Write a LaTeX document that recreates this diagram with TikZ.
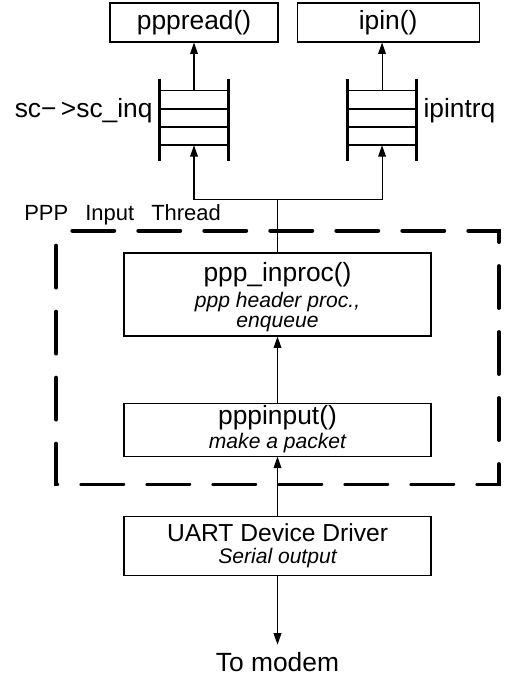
\documentclass[tikz,border=0pt]{standalone}
\usepackage{fontspec}
\setmainfont{Liberation Sans}
\usetikzlibrary{arrows.meta,positioning,fit,calc}

\newcommand{\notefont}{\fontsize{12}{12}\selectfont\itshape}

\begin{document}
\begin{tikzpicture}[node distance=1cm, >={Triangle[length=6.5pt,width=4.4pt]},
    func/.style={rectangle, draw, line width=0.6pt, inner sep=0pt, align=center, font=\fontsize{15}{17}\selectfont},
    queue/.style={rectangle, minimum width=1.36cm, minimum height=1.08cm, inner sep=0pt},
    qlabel/.style={inner sep=1pt, font=\fontsize{15}{17}\selectfont},
    threadline/.style={line width=2.2pt, dash pattern=on 0.84cm off 0.48cm, line cap=round}]
    \useasboundingbox (0,0) rectangle (10.2,-13.56);
    \node [func, minimum width=3.36cm, minimum height=0.78cm] (pppread) at (3.88,-0.45) {pppread()};
    \node [func, minimum width=3.64cm, minimum height=0.78cm, right=0.36cm of pppread] (ipin) {ipin()};
    \node [queue, below=0.96cm of pppread] (inq) {};
    \node [queue, below=0.96cm of ipin, xshift=-0.12cm] (intrq) {};
    \node [qlabel, left=0.1cm of inq, yshift=0.14cm] (inqlabel) {sc−\,>sc\_inq};
    \node [qlabel, right=0.1cm of intrq, yshift=0.14cm] (intrqlabel) {ipintrq};

    \node [func, minimum width=6.14cm, minimum height=1.66cm] (inproc) at (5.55,-5.89) {\rule{0pt}{14pt}ppp\_inproc()\\[-2pt] \notefont ppp header proc.,\\[-5.5pt] \notefont enqueue};
    \node [func, minimum width=6.14cm, minimum height=1.06cm, below=1.32cm of inproc] (input) {pppinput()\\[-3.4pt] \notefont make a packet};
    \node [inner xsep=1.34cm, inner ysep=0.49cm, yshift=-0.06cm, fit=(inproc)(input)] (thread) {};
    \node [above right=-0.02cm and -0.76cm of thread.north west, font=\fontsize{12.5}{14}\selectfont] (threadlabel) {PPP\hspace{0.5em} Input\hspace{0.5em} Thread};
    \node [func, minimum width=6.14cm, minimum height=1.18cm, below=1.18cm of input] (uart) {\fontsize{14}{16}\selectfont UART Device Driver\\[-4.4pt] \notefont Serial output};
    \node [below=1.38cm of uart, inner xsep=2pt, inner ysep=4pt, font=\fontsize{15}{17}\selectfont] (modem) {To modem};
    \coordinate [above=1.06cm of inproc] (split);

    % dashed frame of the thread
    \draw [threadline] ([yshift=-0.3cm]thread.north west) -- (thread.south west) -- (thread.south east) -- (thread.north east) -- ([xshift=0.26cm]thread.north west);

    % queue rails and slots
    \foreach \q in {inq, intrq} {
        \draw [line width=1.6pt] ([yshift=0.24cm]\q.north west) -- ([yshift=-0.32cm]\q.south west);
        \draw [line width=1.6pt] ([yshift=0.24cm]\q.north east) -- ([yshift=-0.32cm]\q.south east);
        \foreach \f in {0,0.34,0.67,1}
            \draw [line width=1pt] ($(\q.north west)!\f!(\q.south west)$) -- ($(\q.north east)!\f!(\q.south east)$);
    }

    \draw [->, line width=0.6pt] (inq) -- (pppread);
    \draw [->, line width=0.6pt] (intrq) -- (intrq |- ipin.south);
    \draw [line width=0.6pt] (inproc) -- (split);
    \draw [->, line width=0.6pt] (split) -| (inq);
    \draw [->, line width=0.6pt] (split) -| (intrq);
    \draw [->, line width=0.6pt] (input) -- (inproc);
    \draw [->, line width=0.6pt] (uart) -- (input);
    \draw [->, line width=0.6pt] (uart) -- (modem);
\end{tikzpicture}
\end{document}
